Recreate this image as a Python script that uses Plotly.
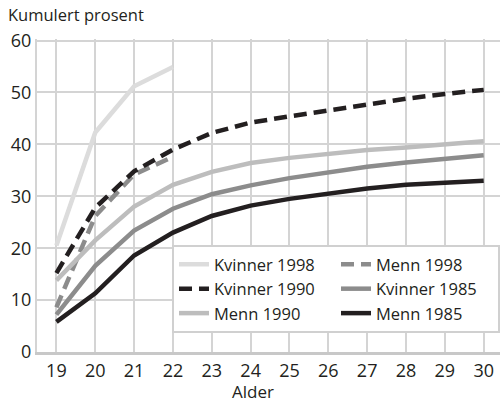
import plotly.graph_objects as go

ages = list(range(19, 31))

kvinner_1998 = [20.5, 42.3, 51.2, 54.9]
menn_1998 = [8.6, 26.2, 34.2, 37.6]
kvinner_1990 = [15.2, 27.8, 34.8, 39.0, 42.2, 44.2, 45.4, 46.6, 47.8, 48.8, 49.7, 50.5]
menn_1990 = [13.8, 21.5, 28.0, 32.2, 34.7, 36.4, 37.4, 38.2, 38.9, 39.4, 39.9, 40.6]
kvinner_1985 = [7.2, 16.6, 23.4, 27.6, 30.4, 32.1, 33.5, 34.7, 35.7, 36.5, 37.1, 37.9]
menn_1985 = [5.8, 11.3, 18.6, 23.0, 26.2, 28.2, 29.5, 30.6, 31.5, 32.2, 32.6, 33.0]

FONT = "Open Sans"
TXT = "#231f20"

series = [
    # name, x, y, color, dash, legendrank
    ("Kvinner 1998", ages[:4], kvinner_1998, "#dcdcdc", "solid", 1),
    ("Menn 1998", ages[:4], menn_1998, "#8c8c8c", "dash", 2),
    ("Kvinner 1985", ages, kvinner_1985, "#8c8c8c", "solid", 4),
    ("Menn 1990", ages, menn_1990, "#bdbdbd", "solid", 5),
    ("Menn 1985", ages, menn_1985, TXT, "solid", 6),
    ("Kvinner 1990", ages, kvinner_1990, TXT, "dash", 3),
]

fig = go.Figure()
for name, x, y, color, dash, rank in series:
    fig.add_trace(go.Scatter(
        x=x, y=y, name=name, mode="lines",
        line=dict(color=color, width=4.5, dash="13px,7px" if dash == "dash" else "solid"),
        legendrank=rank,
    ))

PW, PH = 463, 313

fig.update_layout(
    width=500, height=402,
    margin=dict(l=37, r=0, t=39, b=50, autoexpand=False),
    paper_bgcolor="white", plot_bgcolor="white",
    font=dict(family=FONT, size=17, color=TXT),
    showlegend=True,
    legend=dict(
        orientation="h",
        x=(172 - 37) / PW, y=(352 - 245) / PH, xanchor="left", yanchor="top",
        bgcolor="white", bordercolor="#d0d0d0", borderwidth=2,
        font=dict(family=FONT, size=16.5, color=TXT),
        entrywidth=117, entrywidthmode="pixels",
        traceorder="normal",
    ),
    annotations=[
        dict(text="Kumulert prosent", xref="paper", yref="paper",
             x=-31 / PW, y=(352 - 28) / PH, xanchor="left", yanchor="bottom",
             showarrow=False, font=dict(family=FONT, size=16.5, color=TXT)),
        dict(text="Alder", xref="paper", yref="paper",
             x=(253 - 37) / PW, y=(352 - 392) / PH, xanchor="center", yanchor="middle",
             showarrow=False, font=dict(family=FONT, size=17, color=TXT)),
    ],
)

fig.update_xaxes(
    range=[18.5, 30.42], tickmode="array", tickvals=ages,
    showgrid=True, gridcolor="#d4d4d4", gridwidth=2,
    showline=True, linecolor="#c8c8c8", linewidth=3,
    ticks="", ticklabelstandoff=0,
    tickfont=dict(family=FONT, size=18, color=TXT),
    zeroline=False,
)
fig.update_yaxes(
    range=[0, 60.3], tickvals=[0, 10, 20, 30, 40, 50, 60],
    showgrid=True, gridcolor="#d4d4d4", gridwidth=2,
    showline=True, linecolor="#d4d4d4", linewidth=2,
    ticks="", zeroline=False, ticklabelstandoff=0,
    tickfont=dict(family=FONT, size=18, color=TXT),
)

fig.write_html("out.html", config={"displayModeBar": False},
               post_script="document.body.style.margin='0';")
